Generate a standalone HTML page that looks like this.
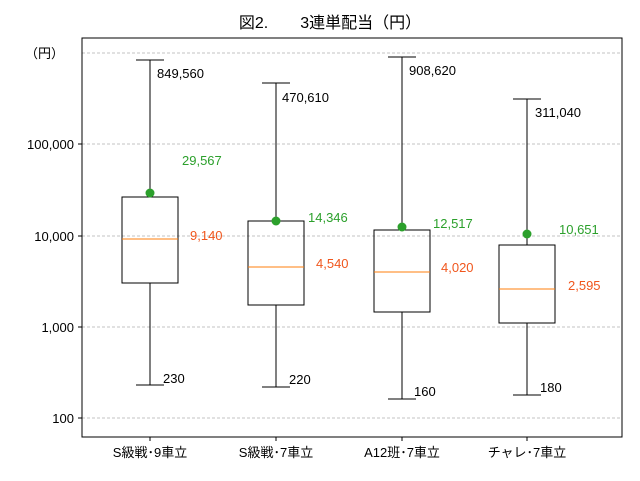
<!DOCTYPE html>
<html><head><meta charset="utf-8"><style>
html,body{margin:0;padding:0;background:#fff;}
svg text{font-family:"Liberation Sans","Noto Sans CJK JP",sans-serif;font-size:13px;}
</style></head><body>
<svg width="640" height="476" viewBox="0 0 640 476" xmlns="http://www.w3.org/2000/svg">
<rect width="640" height="476" fill="#fff"/>
<text x="330" y="28" text-anchor="middle" style="font-size:16px">図2.　　3連単配当（円）</text>
<g stroke="#b0b0b0" stroke-dasharray="3,2" stroke-width="0.8">
<line x1="82" x2="622" y1="53" y2="53"/>
<line x1="82" x2="622" y1="144" y2="144"/>
<line x1="82" x2="622" y1="236" y2="236"/>
<line x1="82" x2="622" y1="327" y2="327"/>
<line x1="82" x2="622" y1="418" y2="418"/>
</g>
<rect x="82" y="38" width="540" height="399" fill="none" stroke="#000" stroke-width="1"/>
<g stroke="#000">
<line x1="78" x2="82" y1="144" y2="144"/><line x1="78" x2="82" y1="236" y2="236"/>
<line x1="78" x2="82" y1="327" y2="327"/><line x1="78" x2="82" y1="418" y2="418"/>
<line x1="150" x2="150" y1="437" y2="441"/><line x1="276" x2="276" y1="437" y2="441"/>
<line x1="402" x2="402" y1="437" y2="441"/><line x1="527" x2="527" y1="437" y2="441"/>
</g>
<g text-anchor="end">
<text x="64" y="58">（円）</text>
<text x="74" y="149">100,000</text>
<text x="74" y="241">10,000</text>
<text x="74" y="332">1,000</text>
<text x="74" y="423">100</text>
</g>
<g text-anchor="middle">
<text x="150" y="457">S級戦･9車立</text>
<text x="276" y="457">S級戦･7車立</text>
<text x="402" y="457">A12班･7車立</text>
<text x="527" y="457">チャレ･7車立</text>
</g>
<g stroke="#000" fill="none" stroke-width="1">
<line x1="150" x2="150" y1="60" y2="197"/><line x1="150" x2="150" y1="283" y2="385"/>
<line x1="136" x2="164" y1="60" y2="60"/><line x1="136" x2="164" y1="385" y2="385"/>
<rect x="122" y="197" width="56" height="86"/>
<line x1="276" x2="276" y1="83" y2="221"/><line x1="276" x2="276" y1="305" y2="387"/>
<line x1="262" x2="290" y1="83" y2="83"/><line x1="262" x2="290" y1="387" y2="387"/>
<rect x="248" y="221" width="56" height="84"/>
<line x1="402" x2="402" y1="57" y2="230"/><line x1="402" x2="402" y1="312" y2="399"/>
<line x1="388" x2="416" y1="57" y2="57"/><line x1="388" x2="416" y1="399" y2="399"/>
<rect x="374" y="230" width="56" height="82"/>
<line x1="527" x2="527" y1="99" y2="245"/><line x1="527" x2="527" y1="323" y2="395"/>
<line x1="513" x2="541" y1="99" y2="99"/><line x1="513" x2="541" y1="395" y2="395"/>
<rect x="499" y="245" width="56" height="78"/>
</g>
<g stroke="#ff7f0e" stroke-width="1">
<line x1="122" x2="178" y1="239" y2="239"/><line x1="248" x2="304" y1="267" y2="267"/>
<line x1="374" x2="430" y1="272" y2="272"/><line x1="499" x2="555" y1="289" y2="289"/>
</g>
<g fill="#2ca02c">
<circle cx="150" cy="193" r="4.5"/><circle cx="276" cy="221" r="4.5"/>
<circle cx="402" cy="227" r="4.5"/><circle cx="527" cy="234" r="4.5"/>
</g>
<g fill="#000">
<text x="157" y="78">849,560</text><text x="163" y="383">230</text>
<text x="282" y="102">470,610</text><text x="289" y="384">220</text>
<text x="409" y="75">908,620</text><text x="414" y="396">160</text>
<text x="535" y="117">311,040</text><text x="540" y="392">180</text>
</g>
<g fill="#2ca02c">
<text x="182" y="165">29,567</text><text x="308" y="222">14,346</text>
<text x="433" y="228">12,517</text><text x="559" y="234">10,651</text>
</g>
<g fill="#f0561d">
<text x="190" y="240">9,140</text><text x="316" y="268">4,540</text>
<text x="441" y="272">4,020</text><text x="568" y="290">2,595</text>
</g>
</svg>
</body></html>
